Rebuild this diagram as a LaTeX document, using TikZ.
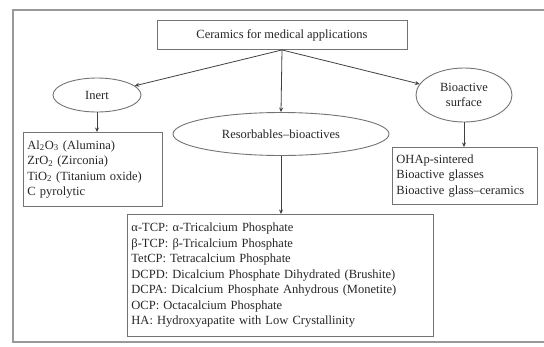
\documentclass[tikz,border=0pt]{standalone}
\usepackage{fontspec}
\setmainfont{Liberation Serif}
\usepackage{tikz}
\usetikzlibrary{arrows.meta,positioning,shapes.geometric}

\begin{document}
\begin{tikzpicture}[
  x=1pt, y=-1pt,
  txt/.style={font=\fontsize{12.5pt}{15.5pt}\selectfont, text=black!85},
  box/.style={txt, draw=black!55, line width=0.9pt, align=left, inner sep=4pt},
  oval/.style={txt, ellipse, draw=black!55, line width=0.9pt, align=center, inner sep=0pt},
  arr/.style={-{Stealth[length=4.5pt,width=4pt]}, line width=0.8pt, black!75},
  frame/.style={draw=black!40, line width=2pt}
]
\useasboundingbox (0,0) rectangle (544,346);
\clip (0,0) rectangle (544,346);
\draw[frame] (13,10) rectangle (560,342);

\node[box, align=center, minimum width=250pt, minimum height=29pt] (top) at (282,35)
  {Ceramics for medical applications};
\node[oval, minimum width=88pt, minimum height=34pt] (inert) at (97,95) {Inert};
\node[oval, minimum width=96pt, minimum height=54pt] (bio) at (464,95) {Bioactive\\ surface};
\node[oval, minimum width=216pt, minimum height=43pt] (res) at (281,134) {Resorbables--bioactives};

\node[box, anchor=north west, text width=131pt, minimum height=74pt] (inertlist) at (23,132)
  {Al\textsubscript{2}O\textsubscript{3} (Alumina)\\
   ZrO\textsubscript{2} (Zirconia)\\
   TiO\textsubscript{2} (Titanium oxide)\\
   C pyrolytic};
\node[box, anchor=north west, text width=137pt, minimum height=57pt] (biolist) at (392,147)
  {OHAp-sintered\\
   Bioactive glasses\\
   Bioactive glass--ceramics};
\node[box, anchor=north west, text width=298pt, minimum height=122pt] (reslist) at (127,214)
  {α-TCP: α-Tricalcium Phosphate\\
   β-TCP: β-Tricalcium Phosphate\\
   TetCP: Tetracalcium Phosphate\\
   DCPD: Dicalcium Phosphate Dihydrated (Brushite)\\
   DCPA: Dicalcium Phosphate Anhydrous (Monetite)\\
   OCP: Octacalcium Phosphate\\
   HA: Hydroxyapatite with Low Crystallinity};

\draw[arr] (top.south) -- (inert);
\draw[arr] (top.south) -- (bio);
\draw[arr] (top.south) -- (res.north);
\draw[arr] (inert.south) -- (inert.south |- inertlist.north);
\draw[arr] (bio.south) -- (bio.south |- biolist.north);
\draw[arr] (res.south) -- (res.south |- reslist.north);
\end{tikzpicture}
\end{document}
